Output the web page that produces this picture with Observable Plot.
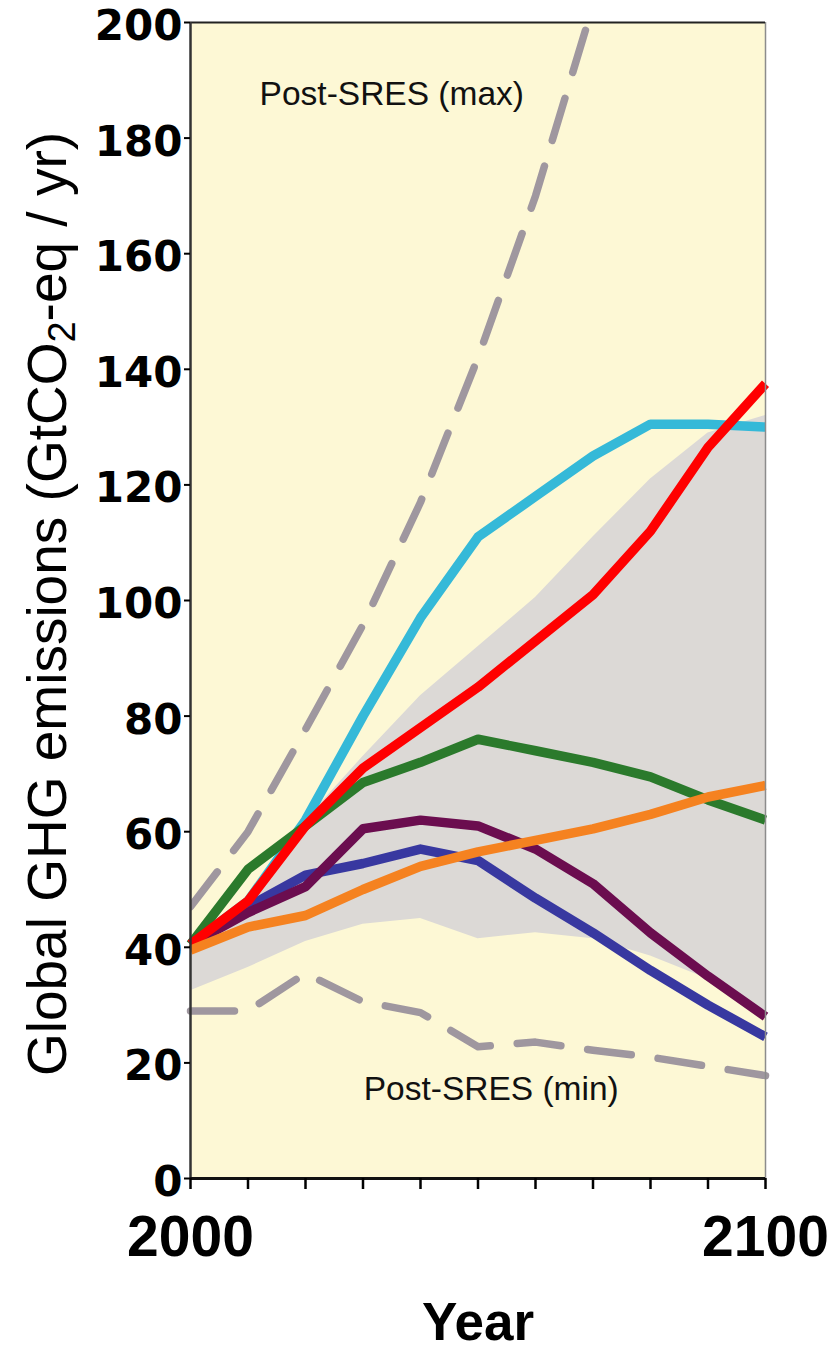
<!DOCTYPE html>
<html>
<head>
<meta charset="utf-8">
<script src="https://cdn.jsdelivr.net/npm/d3@7"></script>
<script src="https://cdn.jsdelivr.net/npm/@observablehq/plot@0.6"></script>
<style>
  html, body { margin: 0; padding: 0; background: #ffffff; }
  #chart svg { display: block; }
</style>
</head>
<body>
<div id="chart"></div>
<script>
// ---- data (GtCO2-eq / yr) ----
const years = [2000, 2010, 2020, 2030, 2040, 2050, 2060, 2070, 2080, 2090, 2100];
const cyanSeries   = [40.5, 48, 62, 80, 97, 111, 118, 125, 130.5, 130.5, 130];
const redSeries    = [40.5, 48, 61, 71, 78, 85, 93, 101, 112, 126.5, 137.5];
const greenSeries  = [40.5, 53.5, 61, 68.5, 72, 76, 74, 72, 69.5, 65.5, 62];
const purpleSeries = [40.5, 46, 50.5, 60.5, 62, 61, 57, 51, 42.5, 35, 28];
const blueSeries   = [40.5, 47, 52.5, 54.5, 57, 55, 48.5, 42.5, 36, 30, 24.5];
const orangeSeries = [39.5, 43.5, 45.5, 50, 54, 56.5, 58.5, 60.5, 63, 66, 68];

const bandHigh = [40, 48, 62, 73, 83.5, 92, 100.5, 111, 121, 129, 132];
const bandLow  = [32.5, 36.5, 41, 44, 45, 41.5, 42.5, 41.5, 38.5, 34.5, 28.5];

const maxYears = [2000, 2010, 2020, 2030, 2040, 2050, 2060, 2070];
const postSresMax = [47, 60, 77.7, 95.8, 117, 142, 170, 203];
const postSresMin = [29, 29, 35.5, 30.6, 28.7, 22.8, 23.6, 22.2, 21, 19.4, 17.8];

const labelText = ["Post-SRES (max)", "Post-SRES (min)"];
const labelYear = [2035, 2052.3];
const labelValue = [187.6, 15.5];

const xTickValues = d3.range(2000, 2101, 10);
const xTickLabels = [2000, 2100];
const yTickValues = d3.range(0, 201, 20);

// ---- styles ----
const colors = {
  cream: "#fdf8d5", band: "#dcd9d6", dashed: "#9f979f",
  cyan: "#35b9d8", red: "#ff0000", green: "#2b7a2c",
  purple: "#6b0d4f", blue: "#3838a0", orange: "#f58220"
};

const toRows = (xs, vals) => xs.map((x, i) => ({year: x, value: vals[i]}));
const bandRows = years.map((y, i) => ({year: y, lo: bandLow[i], hi: bandHigh[i]}));
const labelRows = labelText.map((t, i) => ({text: t, year: labelYear[i], value: labelValue[i]}));

const lineOrder = [
  ["cyan", cyanSeries], ["green", greenSeries], ["blue", blueSeries],
  ["purple", purpleSeries], ["red", redSeries], ["orange", orangeSeries]
];

const sans = "'Liberation Sans', Arial, Helvetica, sans-serif";

const svg = Plot.plot({
  width: 832,
  height: 1355,
  marginLeft: 190,
  marginRight: 67,
  marginTop: 22,
  marginBottom: 177,
  style: {background: "#ffffff", overflow: "visible", fontFamily: sans},
  x: {domain: [2000, 2100]},
  y: {domain: [0, 200]},
  marks: [
    Plot.frame({fill: colors.cream, stroke: null}),
    Plot.areaY(bandRows, {x: "year", y1: "lo", y2: "hi", fill: colors.band}),
    Plot.line(toRows(maxYears, postSresMax), {x: "year", y: "value", stroke: colors.dashed, strokeWidth: 7.5, strokeDasharray: "44,27", clip: true}),
    Plot.line(toRows(years, postSresMin), {x: "year", y: "value", stroke: colors.dashed, strokeWidth: 7.5, strokeDasharray: "44,27"}),
    ...lineOrder.map(([c, vals]) =>
      Plot.line(toRows(years, vals), {x: "year", y: "value", stroke: colors[c], strokeWidth: 9.5, strokeLinejoin: "round", strokeLinecap: "butt"})
    ),
    Plot.text(labelRows, {x: "year", y: "value", text: "text", fontSize: 33.5, fontFamily: sans, fill: "#111", lineAnchor: "middle"}),
    Plot.ruleX([2100], {stroke: "#8c8c8c", strokeWidth: 1.5}),
    Plot.ruleY([200], {stroke: "#222", strokeWidth: 2}),
    Plot.ruleX([2000], {stroke: "#333", strokeWidth: 2.5}),
    Plot.ruleY([0], {stroke: "#111", strokeWidth: 3}),
    Plot.axisX({
      ticks: xTickValues, tickSize: 11, tickPadding: 26, strokeWidth: 2.5,
      tickFormat: d => xTickLabels.includes(d) ? String(d) : "",
      label: null, fontSize: 57, fontWeight: "bold", fontFamily: sans
    }),
    // y tick marks
    Plot.axisY({
      ticks: yTickValues, tickSize: 6, strokeWidth: 2,
      tickFormat: () => "", label: null
    }),
    // y tick labels, nudged slightly below their ticks as in the reference
    Plot.axisY({
      ticks: yTickValues, tickSize: 0, tickPadding: 8, dy: 4,
      tickFormat: d => String(d),
      label: null, fontSize: 42, fontWeight: "bold", fontFamily: "'DejaVu Sans', sans-serif"
    }),
    Plot.text(["Year"], {text: d => d, frameAnchor: "bottom", dy: 124, lineAnchor: "top", fontSize: 53, fontWeight: "bold", fontFamily: sans})
  ]
});

// y-axis title with a real subscript
const title = d3.select(svg).append("text")
  .attr("transform", "translate(66,604) rotate(-90)")
  .attr("text-anchor", "middle")
  .attr("font-family", sans)
  .attr("font-size", 55)
  .attr("fill", "#000");
title.append("tspan").text("Global GHG emissions (GtCO");
title.append("tspan").attr("dy", 9).attr("font-size", 38).text("2");
title.append("tspan").attr("dy", -9).text("-eq / yr)");

document.getElementById("chart").appendChild(svg);
</script>
</body>
</html>
